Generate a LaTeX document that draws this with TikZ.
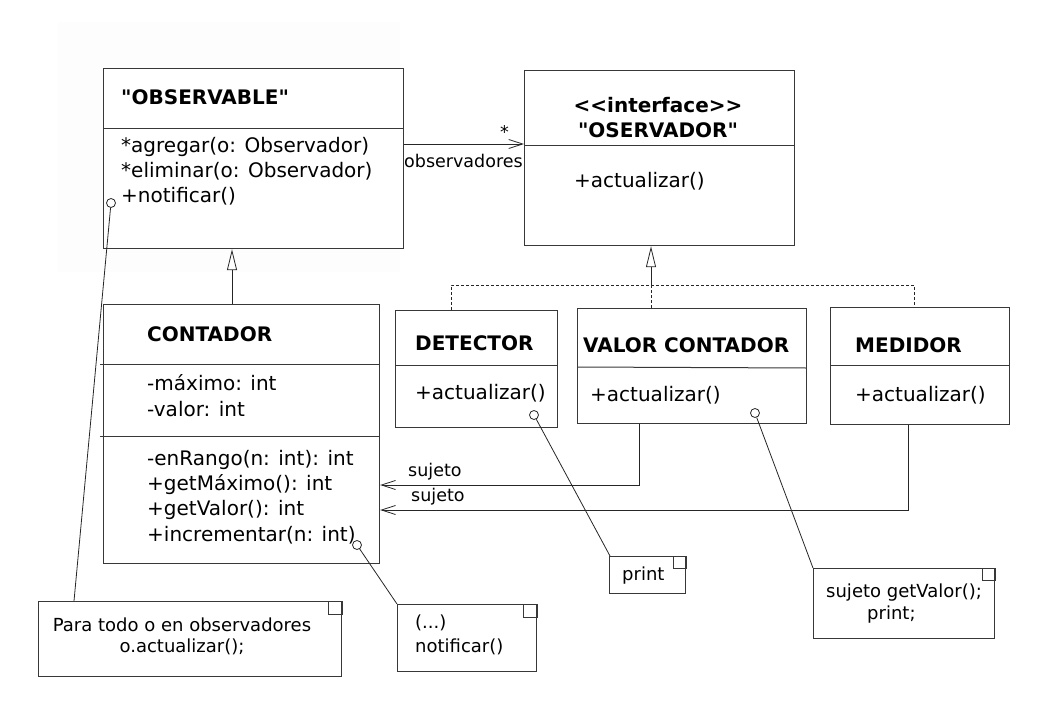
\documentclass[tikz,border=0pt]{standalone}
\usepackage{fontspec}
\setmainfont{DejaVu Sans}[Ligatures=TeXOff]
\usetikzlibrary{arrows.meta}
\begin{document}
\begin{tikzpicture}[x=1pt,y=-1pt,
  cls/.style={draw=black!78, line width=1.2pt, inner sep=0pt, anchor=north west, fill=white},
  note/.style={draw=black!78, line width=1.0pt, inner sep=0pt, anchor=north west, fill=white},
  divider/.style={draw=black!78, line width=1.0pt},
  txt/.style={anchor=west, inner sep=0pt, font=\fontsize{20}{24}\selectfont},
  ttl/.style={anchor=west, inner sep=0pt, font=\fontsize{20}{24}\selectfont\bfseries},
  lbl/.style={anchor=west, inner sep=0pt, font=\fontsize{17.5}{21}\selectfont},
  ntxt/.style={inner sep=0pt, font=\fontsize{18}{22}\selectfont},
  knob/.style={circle, draw=black!85, fill=white, line width=0.8pt, minimum size=9pt, inner sep=0pt},
  wire/.style={draw=black!85, line width=0.8pt},
  assoc/.style={draw=black!85, line width=0.85pt, -{Straight Barb[length=14pt,width=9pt,line width=0.8pt]}},
  gen/.style={draw=black!85, line width=0.85pt, -{Triangle[open,length=21pt,width=10pt,line width=0.8pt,fill=white]}},
  real/.style={draw=black!85, line width=0.8pt, dash pattern=on 3pt off 2pt},
  corner/.style={draw=black!78, line width=0.9pt}
]
\useasboundingbox (0,0) rectangle (1053,701);
\fill[black!0.8] (58,22) rectangle (400,272);

% ---------- OBSERVABLE ----------
\node[cls, minimum width=300pt, minimum height=180pt] (obs) at (103,68) {};
\draw[divider] (103,128) -- (403,128);
\node[ttl] (obsT) at (121,97) {"OBSERVABLE"};
\node[txt] (obs1) at (121,147) {*agregar(o: Observador)};
\node[txt] (obs2) at (121,171) {*eliminar(o: Observador)};
\node[txt] (obs3) at (121,196) {+notificar()};

% ---------- OSERVADOR ----------
\node[cls, minimum width=270pt, minimum height=175pt] (osv) at (524,70) {};
\draw[divider] (524,145) -- (794,145);
\node[ttl, anchor=center] (osvS) at (658,105) {<<interface>>};
\node[ttl, anchor=center] (osvT) at (658,130) {"OSERVADOR"};
\node[txt] (osv1) at (574,181) {+actualizar()};

% ---------- CONTADOR ----------
\node[cls, minimum width=276pt, minimum height=259pt] (cont) at (103,304) {};
\draw[divider] (100,364) -- (379,364);
\draw[divider] (100,436) -- (379,436);
\node[ttl] (contT) at (147,334) {CONTADOR};
\node[txt] (cont1) at (147,383) {-máximo: int};
\node[txt] (cont2) at (147,409) {-valor: int};
\node[txt] (cont3) at (147,460) {-enRango(n: int): int};
\node[txt] (cont4) at (147,485) {+getMáximo(): int};
\node[txt] (cont5) at (147,510) {+getValor(): int};
\node[txt] (cont6) at (147,535) {+incrementar(n: int)};

% ---------- DETECTOR ----------
\node[cls, minimum width=162pt, minimum height=117pt] (det) at (395,310) {};
\draw[divider] (395,365) -- (557,365);
\node[ttl] (detT) at (415,343) {DETECTOR};
\node[txt] (det1) at (415,393) {+actualizar()};

% ---------- VALOR CONTADOR ----------
\node[cls, minimum width=229pt, minimum height=115pt] (valc) at (577,308) {};
\draw[divider] (577,367) -- (806,368);
\node[ttl] (valcT) at (583,345) {VALOR CONTADOR};
\node[txt] (valc1) at (590,395) {+actualizar()};

% ---------- MEDIDOR ----------
\node[cls, minimum width=179pt, minimum height=117pt] (med) at (830,307) {};
\draw[divider] (830,365) -- (1009,365);
\node[ttl] (medT) at (855,345) {MEDIDOR};
\node[txt] (med1) at (855,395) {+actualizar()};

% ---------- notes ----------
\node[note, minimum width=303pt, minimum height=75pt] (n1) at (38,601) {};
\draw[corner] ([xshift=-14pt]n1.north east) rectangle ([yshift=-13pt]n1.north east);
\node[ntxt] (n1a) at (182,625) {Para todo o en observadores};
\node[ntxt] (n1b) at (182,647) {o.actualizar();};

\node[note, minimum width=139pt, minimum height=67pt] (n2) at (397,604) {};
\draw[corner] ([xshift=-14pt]n2.north east) rectangle ([yshift=-13pt]n2.north east);
\node[ntxt, anchor=west] (n2a) at (415,623) {(...)};
\node[ntxt, anchor=west] (n2b) at (415,647) {notificar()};

\node[note, minimum width=76pt, minimum height=37pt] (n3) at (609,556) {};
\draw[corner] ([xshift=-13pt]n3.north east) rectangle ([yshift=-12pt]n3.north east);
\node[ntxt, anchor=west] (n3a) at (622,576) {print};

\node[note, minimum width=181pt, minimum height=70pt] (n4) at (813,568) {};
\draw[corner] ([xshift=-13pt]n4.north east) rectangle ([yshift=-12pt]n4.north east);
\node[ntxt, anchor=west] (n4a) at (826,593) {sujeto getValor();};
\node[ntxt, anchor=west] (n4b) at (867,615) {print;};

% ---------- note anchors ----------
\node[knob] (k1) at (111,203) {};
\node[knob] (k2) at (357,545) {};
\node[knob] (k3) at (534,415) {};
\node[knob] (k4) at (755,413) {};
\draw[wire] (k1) -- ([xshift=36pt]n1.north west);
\draw[wire] (k2) -- (n2.north west);
\draw[wire] (k3) -- ([xshift=1pt]n3.north west);
\draw[wire] (k4) -- (n4.north west);

% ---------- association ----------
\draw[assoc] (obs.east |- 0,144) -- (osv.west |- 0,144);
\node[lbl] (star) at (500,132) {*};
\node[lbl] (obsv) at (404,161) {observadores};

% ---------- generalization ----------
\draw[gen] (cont.north -| 232,0) -- (obs.south -| 232,0);

% ---------- realization ----------
\coordinate (rj) at (651,285);
\draw[real] (det.north -| 451,0) -- (451,285) -- (914,285) -- (med.north -| 914,0);
\draw[real] (valc.north -| 651,0) -- (rj);
\draw[gen] (rj) -- (osv.south -| 651,0);

% ---------- sujeto ----------
\draw[assoc] (valc.south -| 639,0) -- (639,485) -- (cont.east |- 0,485);
\draw[assoc] (med.south -| 908,0) -- (908,510) -- (cont.east |- 0,510);
\node[lbl] (s1) at (408,472) {sujeto};
\node[lbl] (s2) at (411,497) {sujeto};
\end{tikzpicture}
\end{document}
